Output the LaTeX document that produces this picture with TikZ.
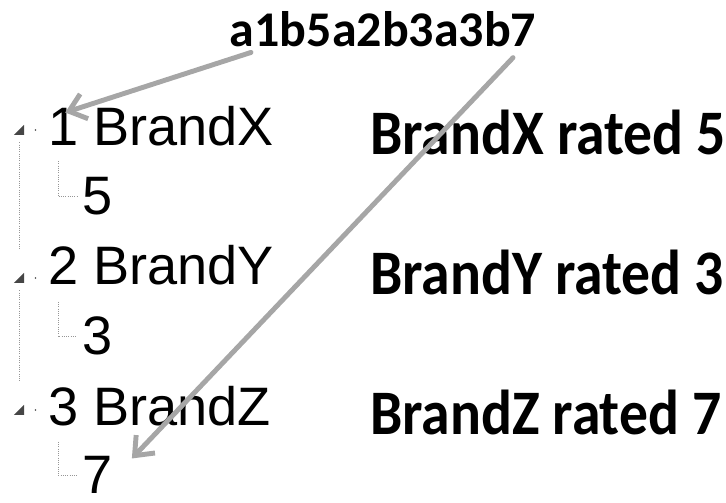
\documentclass[tikz,border=0pt]{standalone}
\usepackage{fontspec}
\usepackage{graphicx}
\newfontfamily\treefont{Liberation Sans}
\newfontfamily\notefont{Carlito}
\usepackage{tikz}
\usetikzlibrary{arrows.meta,calc}

\definecolor{arrowgray}{RGB}{166,166,166}
\definecolor{dotgray}{RGB}{150,150,150}
\definecolor{triagray}{RGB}{70,70,70}

\newcommand{\tallnote}[1]{\scalebox{1}[1.1]{#1}}

\begin{document}
\begin{tikzpicture}[x=0.025cm, y=-0.025cm,
    treetext/.style={anchor=base west, inner sep=0pt, font=\treefont\fontsize{38.5}{40}\selectfont},
    note/.style={anchor=base west, inner sep=0pt, font=\notefont\bfseries\fontsize{41}{43}\selectfont},
    expander/.style={minimum size=0.25cm, inner sep=0pt,
        path picture={\fill[triagray] (path picture bounding box.north east) -- (path picture bounding box.south east) -- (path picture bounding box.south west) -- cycle;}},
    treeline/.style={dotgray, line width=0.6pt, dash pattern=on 0.7pt off 0.9pt},
    pointer/.style={arrowgray, line width=3.5pt, line cap=round, line join=round, -{Straight Barb[length=4mm, width=6.5mm]}}]
    \useasboundingbox (0,0) rectangle (726,503);

    % Encoded string
    \node[anchor=base, inner sep=0pt, font=\notefont\bfseries\fontsize{35.5}{37}\selectfont] (code) at (383,47) {a1b5a2b3a3b7};

    % Tree rows
    \node[treetext] (row1) at (48,146) {1 BrandX};
    \node[treetext] (val1) at (82,215) {5};
    \node[treetext] (row2) at (48,285) {2 BrandY};
    \node[treetext] (val2) at (82,355) {3};
    \node[treetext] (row3) at (48,426) {3 BrandZ};
    \node[treetext] (val3) at (82,494) {7};

    % Expanders
    \node[expander] (exp1) at (19,130) {};
    \node[expander] (exp2) at (19,278) {};
    \node[expander] (exp3) at (19,410) {};
    \foreach \e in {1,2,3}
        \fill[triagray] ([xshift=0.28cm]exp\e.east) circle (0.6pt);

    % Tree lines
    \draw[treeline, shorten <=0.18cm, shorten >=0.6cm] (exp1.south) -- (exp2.north);
    \draw[treeline, shorten <=0.18cm, shorten >=0.6cm] (exp2.south) -- (exp3.north);
    \draw[treeline, shorten >=0.12cm] ([xshift=0.25cm, yshift=-0.38cm]row1.base west) |- (val1.west);
    \draw[treeline, shorten >=0.12cm] ([xshift=0.25cm, yshift=-0.42cm]row2.base west) |- (val2.west);
    \draw[treeline, shorten >=0.12cm] ([xshift=0.25cm, yshift=-0.4cm]row3.base west) |- (val3.west);

    % Ratings
    \node[note] (rate1) at (370,155) {\tallnote{BrandX rated 5}};
    \node[note] (rate2) at (370,295) {\tallnote{BrandY rated 3}};
    \node[note] (rate3) at (370,435) {\tallnote{BrandZ rated 7}};

    % Pointers
    \draw[pointer] ([xshift=-3.3cm, yshift=-0.12cm]code.south) -- ([xshift=0.43cm, yshift=-0.15cm]row1.north west);
    \draw[pointer] ([xshift=3.25cm, yshift=-0.25cm]code.south) -- ([xshift=0.48cm, yshift=-0.05cm]val3.north east);
\end{tikzpicture}
\end{document}
